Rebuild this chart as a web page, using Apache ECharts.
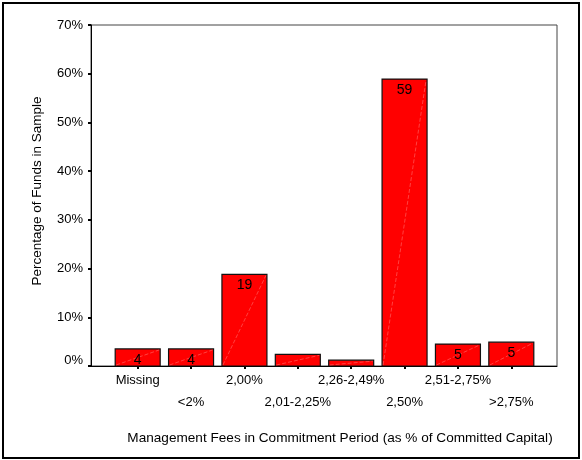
<!DOCTYPE html>
<html>
<head>
<meta charset="utf-8">
<script src="https://cdn.jsdelivr.net/npm/echarts@6/dist/echarts.min.js"></script>
<style>html,body{margin:0;padding:0;background:#fff;}#c{width:582px;height:460px;}</style>
</head>
<body>
<div id="c"></div>
<script>
var categories = ['Missing', '<2%', '2,00%', '2,01-2,25%', '2,26-2,49%', '2,50%', '2,51-2,75%', '>2,75%'];
var values = [3.5, 3.5, 18.8, 2.4, 1.2, 58.9, 4.5, 4.9];
var barLabels = ['4', '4', '19', '', '', '59', '5', '5'];
var yTicks = [0, 10, 20, 30, 40, 50, 60, 70];
var xTitle = 'Management Fees in Commitment Period (as % of Committed Capital)';
var yTitle = 'Percentage of Funds in Sample';

var FONT = '"Liberation Sans", Arial, sans-serif';
var chart = echarts.init(document.getElementById('c'), null, {renderer: 'canvas'});

var option = {
  animation: false,
  backgroundColor: '#fff',
  grid: [
    {left: 91, right: 25, top: 25, bottom: 94, show: true, borderColor: '#444', borderWidth: 1, backgroundColor: 'transparent'},
    {left: 111, right: 44, top: 25, bottom: 94}
  ],
  xAxis: [
    {gridIndex: 0, type: 'value', min: 0, max: 1, axisLine: {show: true, onZero: false, lineStyle: {color: '#000', width: 1}},
     axisTick: {show: false}, axisLabel: {show: false}, splitLine: {show: false}},
    {gridIndex: 1, type: 'category', data: categories,
     axisLine: {show: false},
     axisTick: {show: true, alignWithLabel: true, length: 3, lineStyle: {color: '#000', width: 2}},
     axisLabel: {interval: 0, margin: 3, lineHeight: 22, fontSize: 13, fontFamily: FONT, color: '#000', verticalAlign: 'top',
       formatter: function (v, i) { return (i % 2 === 1 ? '\n' : '') + v; }},
     splitLine: {show: false}}
  ],
  yAxis: [
    {gridIndex: 0, type: 'value', min: yTicks[0], max: yTicks[yTicks.length - 1], interval: 10,
     axisLine: {show: true, lineStyle: {color: '#000', width: 1}},
     axisTick: {show: true, length: 3, lineStyle: {color: '#000', width: 2}},
     axisLabel: {margin: 8, fontSize: 13, fontFamily: FONT, color: '#000',
       formatter: function (v) { return v === 0 ? '{z|0%}' : v + '%'; },
       rich: {z: {fontSize: 13, fontFamily: FONT, color: '#000', padding: [0, 0, 12, 0]}}},
     splitLine: {show: false}},
    {gridIndex: 1, type: 'value', min: yTicks[0], max: yTicks[yTicks.length - 1], interval: 10, show: false}
  ],
  series: [{
    type: 'custom',
    xAxisIndex: 1,
    yAxisIndex: 1,
    data: values.map(function (v, i) { return [i, v]; }),
    encode: {x: 0, y: 1},
    renderItem: function (params, api) {
      var idx = api.value(0), v = api.value(1);
      var top = api.coord([idx, v]);
      var bot = api.coord([idx, 0]);
      var w = api.size([1, 0])[0] * 0.843;
      var x0 = top[0] - w / 2;
      return {
        type: 'group',
        children: [
          {type: 'rect', shape: {x: x0, y: top[1], width: w, height: bot[1] - top[1]},
           style: {fill: '#ff0000', stroke: '#111', lineWidth: 1.2}},
          {type: 'line', shape: {x1: x0 + 1, y1: bot[1] - 1, x2: x0 + w - 1, y2: top[1] + 1},
           style: {stroke: 'rgba(255,200,200,0.55)', lineWidth: 0.6, lineDash: [4, 2]}},
          {type: 'text', style: {text: barLabels[idx], x: top[0], y: top[1] + 11, align: 'center', verticalAlign: 'middle',
           fill: '#000', font: '14px ' + FONT}}
        ]
      };
    }
  }],
  graphic: [
    {type: 'rect', shape: {x: 3, y: 3, width: 576, height: 455}, style: {fill: 'none', stroke: '#000', lineWidth: 2}, silent: true},
    {type: 'text', x: 37, y: 191, rotation: Math.PI / 2, style: {text: yTitle, align: 'center', verticalAlign: 'middle', fill: '#000', font: '13.5px ' + FONT}},
    {type: 'text', x: 340, y: 438, style: {text: xTitle, align: 'center', verticalAlign: 'middle', fill: '#000', font: '13.6px ' + FONT}}
  ]
};
chart.setOption(option);
</script>
</body>
</html>
